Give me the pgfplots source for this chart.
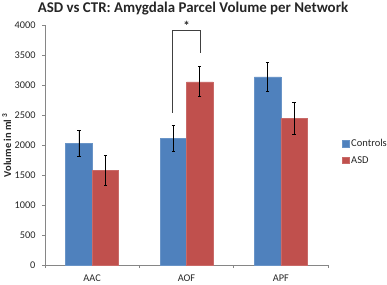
\documentclass[border=0pt]{standalone}
\usepackage{pgfplots}
\pgfplotsset{compat=1.18}
\usepackage{fontspec}
\setmainfont{Carlito}
\definecolor{xlblue}{HTML}{4F81BD}
\definecolor{xlred}{HTML}{C0504D}
\definecolor{axgray}{HTML}{868686}
\definecolor{txt}{HTML}{262626}
\begin{document}
\begin{tikzpicture}
\useasboundingbox (-45pt,-19pt) rectangle (342pt,265pt);
\begin{axis}[
  at={(0,0)}, anchor=south west,
  scale only axis, width=283pt, height=240pt,
  ybar=0pt, bar width=26.5pt,
  xmin=-0.5, xmax=2.5, ymin=0, ymax=4000,
  xtick={0,1,2}, xticklabels={AAC,AOF,APF},
  ytick={0,500,...,4000},
  extra x ticks={-0.5,0.5,1.5,2.5}, extra x tick labels={},
  extra x tick style={xtick style={draw=axgray, line width=0.6pt}, tick align=outside, major tick length=3pt},
  xtick style={draw=none},
  ytick style={draw=axgray, line width=0.6pt},
  tick align=outside, major tick length=3pt,
  axis x line*=bottom, axis y line*=left,
  axis line style={draw=axgray, line width=0.6pt, -},
  /pgf/number format/assume math mode=true,
  /pgf/number format/1000 sep={},
  tick label style={font=\fontsize{10.3}{12}\selectfont, text=txt},
  x tick label style={yshift=-3pt},
  y tick label style={xshift=-3pt},
  ylabel={Volume in ml \textsuperscript{3}},
  ylabel style={at={(axis description cs:-0.135,0.5)}, anchor=center, font=\bfseries\fontsize{10.5}{12}\selectfont, text=txt},
  title={ASD vs CTR: Amygdala Parcel Volume per Network},
  every axis title/.style={at={(axis description cs:0.523,1)}, anchor=base, yshift=12.7pt, font=\bfseries\fontsize{14.9}{16}\selectfont, text=txt},
  legend style={at={([xshift=11pt]rel axis cs:1,0.47)}, anchor=west, draw=none, fill=none,
    font=\fontsize{10.5}{12}\selectfont, text=txt, row sep=4pt,
    legend cell align=left},
  legend image code/.code={\fill[#1] (0pt,-3pt) rectangle (6.5pt,3.5pt);},
  clip=false,
  error bars/y dir=both, error bars/y explicit,
  error bars/error bar style={black, line width=0.7pt},
  error bars/error mark options={rotate=90, mark size=1.6pt, line width=0.7pt, black},
]
\addplot[fill=xlblue, draw=xlblue!85!white, line width=0.5pt]
  coordinates {(0,2030) +- (0,212) (1,2110) +- (0,222) (2,3136) +- (0,238)};
\addplot[fill=xlred, draw=xlred!85!white, line width=0.5pt]
  coordinates {(0,1577) +- (0,245) (1,3053) +- (0,250) (2,2444) +- (0,262)};
\legend{Controls,ASD}
\draw[draw=black!75, line width=0.9pt] (axis cs:0.855,2540) -- (axis cs:0.855,3905) -- (axis cs:1.145,3905) -- (axis cs:1.145,3530);
\node[font=\bfseries\fontsize{13}{14}\selectfont, text=txt] at (axis cs:1,3990) {*};
\end{axis}
\end{tikzpicture}
\end{document}
